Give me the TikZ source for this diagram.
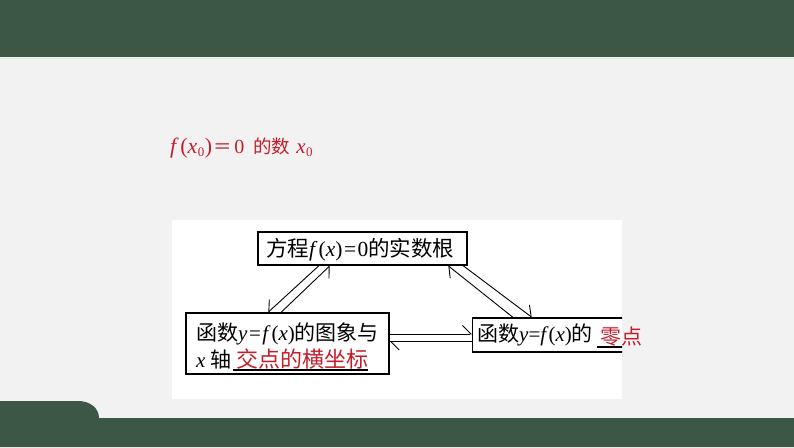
\documentclass[tikz,border=0pt]{standalone}
\usepackage{fontspec}
\setmainfont{Liberation Serif}
\newfontfamily\cjk{Noto Sans CJK SC}
\usetikzlibrary{arrows.meta}
\definecolor{bggray}{HTML}{F2F2F2}
\definecolor{dgreen}{HTML}{3C5746}
\definecolor{paleline}{HTML}{DCE8DC}
\definecolor{myred}{HTML}{C41E2A}
\newcommand{\subz}{\kern0.5pt\raisebox{-3pt}{\fontsize{13}{13}\selectfont 0}}
\begin{document}
\begin{tikzpicture}[x=1pt,y=-1pt,
  box/.style={draw=black, line width=1.2pt, fill=white, inner sep=0pt},
  conn/.style={line width=0.9pt},
  hl/.style={conn, -{Straight Barb[left, length=8.5pt, width=17pt]}},
  hr/.style={conn, -{Straight Barb[right, length=8.5pt, width=17pt]}},
  txt/.style={inner sep=0pt, anchor=base west, font=\fontsize{21}{21}\selectfont},
  redtxt/.style={txt, text=myred},
]
\useasboundingbox (0,0) rectangle (794,447);
% slide background
\fill[bggray] (0,0) rectangle (794,447);
\fill[dgreen] (0,0) rectangle (794,57);
\draw[paleline, line width=1pt] (0,58) -- (794,58);
\fill[dgreen] (0,447) -- (0,401) -- (78,401) .. controls (90,401) and (99,408) .. (99,418) -- (794,418) -- (794,447) -- cycle;
% heading text
\node[redtxt, font=\fontsize{18.5}{18.5}\selectfont] (head) at (170,153)
  {{\fontsize{22}{22}\selectfont\textit{f}\kern1.5pt(\textit{x}\subz\kern0.5pt)}\kern1pt{\cjk ＝}\kern2.5pt{\fontsize{20}{20}\selectfont 0}\kern9pt{\cjk 的数}\kern6pt{\fontsize{21}{21}\selectfont\textit{x}}\subz};
% white panel
\fill[white] (172,220) rectangle (622,399);
\begin{scope}
\clip (172,220) rectangle (622,399);
\node[box, minimum width=209pt, minimum height=33pt] (top) at (362.5,248.5) {};
\node[box, minimum width=203pt, minimum height=61pt] (left) at (287.5,343.5) {};
\node[box, minimum width=200pt, minimum height=34pt, anchor=west] (right) at (472,335) {};
% texts
\node[txt, font=\fontsize{21.5}{21.5}\selectfont] (ttop) at (266,256) {{\cjk 方程}\textit{f}\kern1pt(\textit{x})\kern1.5pt=\kern1.5pt0{\cjk 的实数根}};
\node[txt] (tl1) at (196,340) {{\cjk 函数}\textit{y}\kern1.5pt=\kern1.5pt\textit{f}\kern1pt(\textit{x}){\cjk 的图象与}};
\node[txt] (tl2) at (196,367) {\textit{x} {\cjk 轴}};
\node[redtxt, font=\fontsize{22}{22}\selectfont] (tl3) at (236,367) {\cjk 交点的横坐标};
\draw[line width=1.1pt] (233,370) -- (368,370);
\node[txt] (tr) at (477,341) {{\cjk 函数}\textit{y}=\textit{f}(\textit{x}){\cjk 的}};
\draw[line width=1.3pt] (597,347) -- (626,347);
% connectors
\draw[hr] ([xshift=-43.5]top.south) -- ([xshift=-19.5]left.north);
\draw[hr] ([xshift=-6.5]left.north) -- ([xshift=-32.5]top.south);
\draw[hl] ([xshift=41]right.north west) -- ([xshift=85.5]top.south);
\draw[hl] ([xshift=100.5]top.south) -- ([xshift=60]right.north west);
\draw[hl] ([yshift=9.5]left.east) -- ([yshift=1]right.west);
\draw[hl] ([yshift=-6.5]right.west) -- ([yshift=2]left.east);
\end{scope}
\node[redtxt] (zero) at (600,344) {\cjk 零点};
\end{tikzpicture}
\end{document}
